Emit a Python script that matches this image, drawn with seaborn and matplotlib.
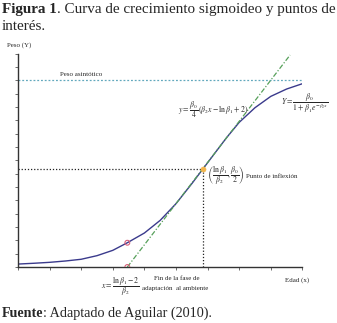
import matplotlib
matplotlib.use("Agg")
import matplotlib.pyplot as plt
import seaborn as sns
import pandas as pd

# ---- data (x in age units, y in weight units) ----
age = [0.0, 0.5, 1.0, 1.5, 2.0, 2.5, 3.0, 3.46, 4.0, 4.5, 5.0, 5.5, 5.85, 6.2, 6.6, 7.0, 7.5, 8.0, 8.5, 9.0]
weight = [0.22, 0.28, 0.35, 0.45, 0.58, 0.85, 1.25, 1.82, 2.55, 3.5, 4.75, 6.25, 7.35, 8.45, 9.7, 10.85, 11.95, 12.8, 13.35, 13.75]
asym_x = [0.0, 9.3]
asym_y = [14.0, 14.0]
tangent_x = [3.46, 8.61]
tangent_y = [0.0, 15.9]
inflection_x = [5.85]
inflection_y = [7.35]
lag_x = [3.46, 3.46]
lag_y = [1.82, 0.0]

W, H = 337, 323
sns.set_style("white")
plt.rcParams['font.family'] = ['Liberation Serif', 'DejaVu Serif']
plt.rcParams['mathtext.fontset'] = 'stix'

fig = plt.figure(figsize=(W / 100, H / 100), dpi=100)
ax = fig.add_axes([18 / W, 1 - 267 / H, 284.4 / W, 213.3 / H])

curve = pd.DataFrame({"x": age, "y": weight})
sns.lineplot(data=curve, x="x", y="y", ax=ax, color="#3a3a8c", lw=1.0, sort=False)
sns.lineplot(x=asym_x, y=asym_y, ax=ax, color="#62a8bd", lw=0.9, linestyle=(0, (1.5, 1.5)))
sns.lineplot(x=tangent_x, y=tangent_y, ax=ax, color="#56a05a", lw=0.9, linestyle=(0, (4, 1.5, 1, 1.5)))
# projections of inflection point
ax.plot([0, inflection_x[0]], [inflection_y[0]] * 2, color="#222222", lw=0.9, ls=(0, (1, 1.5)))
ax.plot([inflection_x[0]] * 2, [0, inflection_y[0]], color="#222222", lw=0.9, ls=(0, (1, 1.5)))
sns.scatterplot(x=inflection_x, y=inflection_y, ax=ax, color="#f2b54a", s=14, edgecolor="#f2b54a", zorder=5)
sns.scatterplot(x=lag_x, y=lag_y, ax=ax, facecolor="none", edgecolor="#d8607a", s=12, linewidth=0.8, zorder=5)

ax.set_xlim(0, 9)
ax.set_ylim(0, 16)
ax.set_xticks(range(0, 10))
ax.set_yticks(range(0, 17))
ax.set_xticklabels([])
ax.set_yticklabels([])
ax.set_xlabel("")
ax.set_ylabel("")
for s in ["top", "right"]:
    ax.spines[s].set_visible(False)
for s in ["left", "bottom"]:
    ax.spines[s].set_color("#333333")
    ax.spines[s].set_linewidth(1.0)
ax.tick_params(axis="both", direction="out", length=2.5, width=0.6, color="#555555", bottom=True, left=True)

def ft(x, y, s, **kw):
    kw.setdefault("va", "baseline")
    return fig.text(x / W, 1 - y / H, s, **kw)

fs = 5.0
mfs = 5.6
ft(7, 47, "Peso (Y)", fontsize=fs)
ft(60, 76, "Peso asintótico", fontsize=fs)
ft(285, 282, "Edad (x)", fontsize=fs)
ft(246, 178, "Punto de inflexión", fontsize=fs)
ft(207, 176, r"$\left(\dfrac{\ln\beta_1}{\beta_2},\dfrac{\beta_0}{2}\right)$", fontsize=mfs, va="center")
ft(248, 110, r"$y=\dfrac{\beta_0}{4}\,(\beta_2 x-\ln\beta_1+2)$", fontsize=mfs, va="center", ha="right")
ft(281, 103, r"$Y=\dfrac{\beta_0}{1+\beta_1 e^{-\beta_2 x}}$", fontsize=mfs, va="center")
ft(101, 287, r"$x=\dfrac{\ln\beta_1-2}{\beta_2}$", fontsize=mfs, va="center")
ft(177, 280, "Fin de la fase de", fontsize=fs, ha="center")
ft(175, 290, "adaptación  al ambiente", fontsize=fs, ha="center")

# title and source, bold prefix + normal remainder
r = fig.canvas.get_renderer()
def mixed(x, y, bold, rest, size):
    t = ft(x, y, bold, fontsize=size, fontweight="bold")
    bb = t.get_window_extent(renderer=r)
    fig.text(bb.x1 / W, 1 - y / H, rest, fontsize=size, va="baseline")

mixed(2, 13, "Figura 1", ". Curva de crecimiento sigmoideo y puntos de", 10.9)
ft(2, 29.5, "interés.", fontsize=10.9)
mixed(2, 317, "Fuente", ": Adaptado de Aguilar (2010).", 10.2)

fig.savefig("out.png", dpi=100)
